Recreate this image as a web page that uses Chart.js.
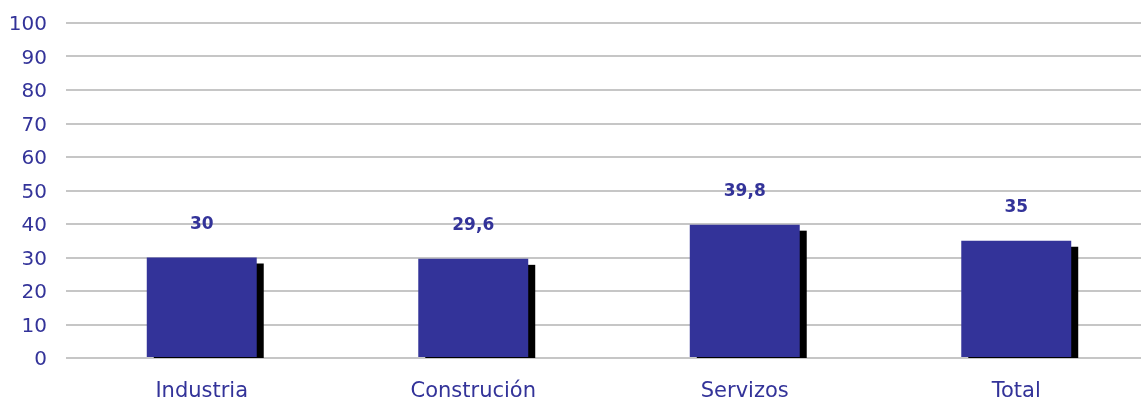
<!DOCTYPE html>
<html>
<head>
<meta charset="utf-8">
<script src="https://cdn.jsdelivr.net/npm/chart.js@4/dist/chart.umd.min.js"></script>
<style>
  html, body { margin: 0; padding: 0; background: #ffffff; overflow: hidden; }
  #wrap { position: relative; width: 1152px; height: 400px; }
</style>
</head>
<body>
<div id="wrap"><canvas id="c"></canvas></div>
<script>
const categories = ["Industria", "Construción", "Servizos", "Total"];
const values = [30, 29.6, 39.8, 35];
const yTicks = [0, 10, 20, 30, 40, 50, 60, 70, 80, 90, 100];

const BLUE = '#333399';

const shadowPlugin = {
  id: 'barShadow',
  beforeDatasetsDraw(chart) {
    const ctx = chart.ctx;
    const meta = chart.getDatasetMeta(0);
    ctx.save();
    ctx.fillStyle = '#000000';
    meta.data.forEach(bar => {
      const p = bar.getProps(['x', 'y', 'base', 'width'], true);
      const left = p.x - p.width / 2 + 7;
      const top = p.y + 6;
      const bottom = p.base + 1;
      ctx.fillRect(left, top, p.width, bottom - top);
    });
    ctx.restore();
  }
};

const labelPlugin = {
  id: 'valueLabels',
  afterDatasetsDraw(chart) {
    const ctx = chart.ctx;
    const meta = chart.getDatasetMeta(0);
    ctx.save();
    ctx.fillStyle = BLUE;
    ctx.font = 'bold 17px "DejaVu Sans", Verdana, sans-serif';
    ctx.textAlign = 'center';
    ctx.textBaseline = 'middle';
    meta.data.forEach((bar, i) => {
      const p = bar.getProps(['x', 'y'], true);
      ctx.fillText(String(values[i]).replace('.', ','), p.x, p.y - 33);
    });
    ctx.restore();
  }
};

new Chart(document.getElementById('c'), {
  type: 'bar',
  data: {
    labels: categories,
    datasets: [{
      data: values,
      backgroundColor: BLUE,
      borderWidth: 0,
      categoryPercentage: 1.0,
      barPercentage: 0.405
    }]
  },
  options: {
    responsive: true,
    maintainAspectRatio: false,
    animation: false,
    devicePixelRatio: 1,
    layout: { padding: { top: 23, right: 0, bottom: 0, left: 0 } },
    plugins: { legend: { display: false }, tooltip: { enabled: false } },
    scales: {
      x: {
        grid: { display: false, drawTicks: false },
        border: { display: false },
        ticks: {
          color: BLUE,
          font: { family: '"DejaVu Sans", Verdana, sans-serif', size: 21 },
          padding: 21,
          maxRotation: 0
        },
        afterFit(scale) { scale.height = 42; scale.paddingLeft = 0; scale.paddingRight = 0; }
      },
      y: {
        min: 0,
        max: 100,
        afterBuildTicks(scale) { scale.ticks = yTicks.map(v => ({ value: v })); },
        grid: { color: '#c6c6c6', lineWidth: 2, drawTicks: false },
        border: { display: false },
        ticks: {
          color: BLUE,
          font: { family: '"DejaVu Sans", Verdana, sans-serif', size: 20 },
          padding: 19,
          labelOffset: 2
        },
        afterFit(scale) { scale.width = 66; scale.paddingTop = 0; scale.paddingBottom = 0; }
      }
    }
  },
  plugins: [shadowPlugin, labelPlugin]
});
</script>
</body>
</html>
